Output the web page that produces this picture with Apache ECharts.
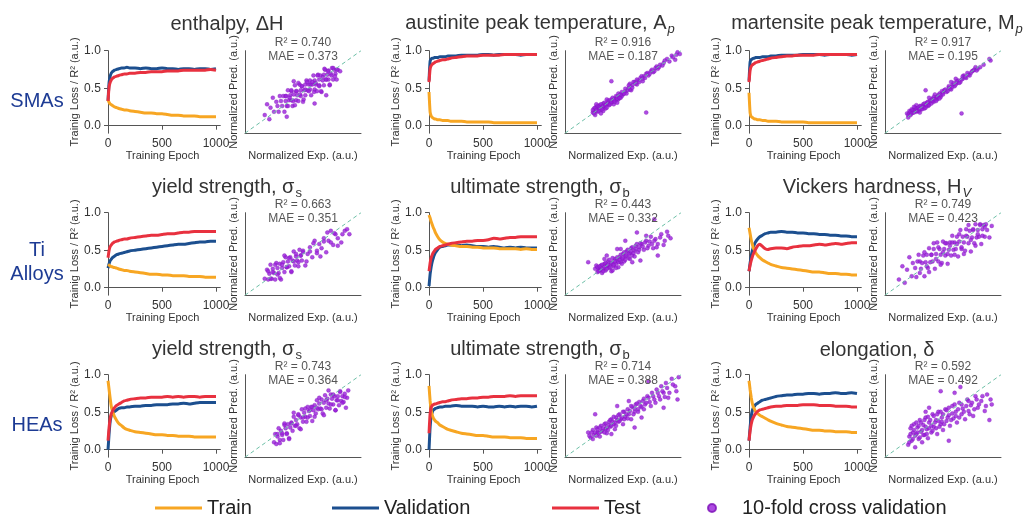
<!DOCTYPE html>
<html>
<head>
<meta charset="utf-8">
<script src="https://cdn.jsdelivr.net/npm/echarts@6/dist/echarts.min.js"></script>
<style>
html, body { margin: 0; padding: 0; background: #fff; }
#chart { width: 1027px; height: 516px; }
</style>
</head>
<body>
<div id="chart"></div>
<script>
// 横轴：训练轮数
var epochs = [0, 10, 20, 30, 40, 50, 60, 80, 100, 125, 150, 175, 200, 250, 300, 350, 400, 450, 500, 550, 600, 650, 700, 750, 800, 850, 900, 950, 1000];
var epochTicks = [0, 500, 1000];
var lossTicks = [0, 0.5, 1.0];

var rowNames = ['SMAs', 'Ti\nAlloys', 'HEAs'];
var panelTitles = [
	'enthalpy, ΔH',
	'austinite peak temperature, A{it|p}',
	'martensite peak temperature, M{it|p}',
	'yield strength, σ{sub|s}',
	'ultimate strength, σ{sub|b}',
	'Vickers hardness, H{it|V}',
	'yield strength, σ{sub|s}',
	'ultimate strength, σ{sub|b}',
	'elongation, δ'
];
var r2Values = ['0.740', '0.916', '0.917', '0.663', '0.443', '0.749', '0.743', '0.714', '0.592'];
var maeValues = ['0.373', '0.187', '0.195', '0.351', '0.332', '0.423', '0.364', '0.388', '0.492'];

// SMAs - enthalpy
var smaDHTrain = [0.35, 0.31, 0.29, 0.28, 0.27, 0.26, 0.25, 0.24, 0.23, 0.22, 0.21, 0.21, 0.20, 0.19, 0.18, 0.17, 0.17, 0.16, 0.16, 0.15, 0.14, 0.14, 0.13, 0.13, 0.13, 0.12, 0.12, 0.12, 0.12];
var smaDHVal = [0.33, 0.58, 0.66, 0.70, 0.72, 0.73, 0.74, 0.75, 0.76, 0.77, 0.77, 0.78, 0.77, 0.77, 0.76, 0.77, 0.76, 0.76, 0.77, 0.76, 0.76, 0.75, 0.76, 0.76, 0.75, 0.76, 0.76, 0.75, 0.76];
var smaDHTest = [0.33, 0.52, 0.58, 0.61, 0.63, 0.64, 0.65, 0.66, 0.67, 0.68, 0.69, 0.69, 0.70, 0.70, 0.71, 0.71, 0.72, 0.72, 0.72, 0.73, 0.73, 0.73, 0.74, 0.74, 0.74, 0.74, 0.74, 0.75, 0.74];
var smaDHCv = [[0.17,0.22],[0.19,0.35],[0.21,0.17],[0.22,0.31],[0.24,0.43],[0.25,0.26],[0.27,0.38],[0.28,0.33],[0.29,0.26],[0.30,0.45],[0.31,0.39],[0.32,0.33],[0.33,0.45],[0.34,0.26],[0.35,0.39],[0.35,0.45],[0.36,0.33],[0.37,0.52],[0.38,0.40],[0.39,0.46],[0.40,0.40],[0.40,0.51],[0.41,0.33],[0.42,0.47],[0.43,0.58],[0.44,0.40],[0.44,0.51],[0.45,0.46],[0.46,0.39],[0.47,0.59],[0.48,0.52],[0.48,0.45],[0.49,0.57],[0.50,0.38],[0.51,0.52],[0.52,0.59],[0.52,0.46],[0.53,0.64],[0.54,0.52],[0.55,0.59],[0.56,0.53],[0.56,0.64],[0.57,0.46],[0.58,0.59],[0.59,0.70],[0.60,0.53],[0.60,0.64],[0.61,0.59],[0.62,0.51],[0.63,0.71],[0.64,0.65],[0.64,0.58],[0.65,0.70],[0.66,0.50],[0.67,0.64],[0.68,0.71],[0.68,0.58],[0.69,0.77],[0.70,0.65],[0.71,0.71],[0.72,0.65],[0.72,0.76],[0.73,0.58],[0.74,0.72],[0.75,0.79],[0.76,0.65],[0.77,0.77],[0.78,0.72],[0.79,0.65],[0.80,0.77],[0.82,0.75],
	[0.355,0.45],[0.37,0.33],[0.385,0.43],[0.40,0.52],[0.415,0.39],[0.43,0.34],[0.445,0.51],[0.46,0.61],[0.475,0.47],[0.49,0.57],[0.505,0.41],[0.52,0.53],[0.535,0.62],[0.55,0.51],[0.565,0.59],[0.58,0.62],[0.595,0.50],[0.61,0.61],[0.625,0.70],[0.64,0.57],[0.655,0.51],[0.67,0.68],[0.685,0.78],[0.70,0.65],[0.715,0.75],[0.73,0.59],[0.745,0.70],[0.76,0.79],[0.775,0.69],[0.79,0.77],[0.36,0.20],[0.60,0.36],[0.70,0.46],[0.42,0.63]];

// SMAs - Ap
var smaApTrain = [0.45, 0.18, 0.13, 0.11, 0.10, 0.09, 0.09, 0.08, 0.08, 0.07, 0.07, 0.07, 0.06, 0.06, 0.06, 0.05, 0.05, 0.05, 0.05, 0.05, 0.04, 0.04, 0.04, 0.04, 0.04, 0.04, 0.04, 0.04, 0.04];
var smaApVal = [0.60, 0.86, 0.89, 0.90, 0.90, 0.91, 0.91, 0.91, 0.92, 0.92, 0.92, 0.93, 0.93, 0.93, 0.94, 0.94, 0.94, 0.94, 0.95, 0.95, 0.94, 0.95, 0.95, 0.95, 0.95, 0.94, 0.95, 0.95, 0.95];
var smaApTest = [0.58, 0.76, 0.80, 0.82, 0.83, 0.84, 0.85, 0.86, 0.87, 0.88, 0.88, 0.89, 0.90, 0.91, 0.92, 0.93, 0.93, 0.93, 0.94, 0.94, 0.94, 0.94, 0.95, 0.95, 0.95, 0.95, 0.95, 0.95, 0.95];
var smaApCv = [[0.24,0.25],[0.25,0.30],[0.26,0.27],[0.27,0.32],[0.28,0.26],[0.29,0.30],[0.30,0.34],[0.31,0.28],[0.32,0.31],[0.33,0.36],[0.34,0.32],[0.35,0.30],[0.36,0.35],[0.37,0.39],[0.38,0.34],[0.39,0.37],[0.40,0.41],[0.41,0.38],[0.42,0.35],[0.43,0.42],[0.44,0.40],[0.45,0.44],[0.46,0.41],[0.47,0.46],[0.48,0.43],[0.50,0.47],[0.52,0.51],[0.53,0.48],[0.55,0.55],[0.57,0.52],[0.58,0.58],[0.60,0.62],[0.62,0.59],[0.63,0.64],[0.65,0.67],[0.67,0.63],[0.68,0.69],[0.70,0.72],[0.72,0.70],[0.74,0.75],[0.76,0.74],[0.78,0.79],[0.80,0.78],[0.82,0.83],[0.85,0.85],[0.88,0.90],[0.92,0.94],[0.95,0.89],[0.97,0.98],[0.99,0.96],[0.40,0.63],[0.70,0.25],[0.33,0.27],[0.29,0.33],[0.26,0.22],[0.56,0.60],[0.49,0.45],
	[0.24,0.28],[0.25,0.24],[0.26,0.31],[0.27,0.28],[0.28,0.33],[0.29,0.27],[0.30,0.31],[0.31,0.35],[0.32,0.29],[0.33,0.33],[0.34,0.37],[0.35,0.34],[0.36,0.31],[0.37,0.36],[0.38,0.40],[0.39,0.35],[0.40,0.38],[0.41,0.43],[0.42,0.40],[0.43,0.38],[0.44,0.45],[0.45,0.42],[0.46,0.48],[0.47,0.43],[0.48,0.47],[0.49,0.50],[0.51,0.48],[0.52,0.54],[0.54,0.52],[0.55,0.58],[0.56,0.53],[0.58,0.55],[0.59,0.62],[0.61,0.60],[0.62,0.65],[0.64,0.62],[0.66,0.69],[0.67,0.66],[0.69,0.67],[0.71,0.73],[0.73,0.72],[0.75,0.77],[0.77,0.75],[0.79,0.81],[0.81,0.80],[0.84,0.82],[0.86,0.88],[0.90,0.87],[0.93,0.92],[0.96,0.95],[0.36,0.41],[0.31,0.24],[0.45,0.37],[0.27,0.35]];

// SMAs - Mp
var smaMpTrain = [0.44, 0.17, 0.12, 0.11, 0.10, 0.09, 0.09, 0.08, 0.08, 0.07, 0.07, 0.06, 0.06, 0.06, 0.05, 0.05, 0.05, 0.05, 0.05, 0.04, 0.04, 0.04, 0.04, 0.04, 0.04, 0.04, 0.04, 0.04, 0.04];
var smaMpVal = [0.60, 0.85, 0.88, 0.89, 0.90, 0.90, 0.91, 0.91, 0.91, 0.92, 0.92, 0.92, 0.93, 0.93, 0.94, 0.94, 0.94, 0.94, 0.95, 0.95, 0.95, 0.95, 0.94, 0.95, 0.95, 0.95, 0.95, 0.94, 0.95];
var smaMpTest = [0.58, 0.74, 0.79, 0.81, 0.82, 0.83, 0.84, 0.85, 0.86, 0.87, 0.88, 0.89, 0.90, 0.91, 0.92, 0.93, 0.93, 0.94, 0.94, 0.94, 0.94, 0.95, 0.95, 0.95, 0.95, 0.95, 0.95, 0.95, 0.95];
var smaMpCv = [[0.19,0.24],[0.21,0.27],[0.22,0.22],[0.23,0.29],[0.24,0.25],[0.25,0.28],[0.26,0.31],[0.27,0.26],[0.28,0.30],[0.29,0.27],[0.30,0.33],[0.31,0.29],[0.32,0.32],[0.33,0.35],[0.34,0.30],[0.35,0.34],[0.36,0.37],[0.37,0.33],[0.38,0.36],[0.40,0.39],[0.41,0.42],[0.42,0.38],[0.44,0.43],[0.45,0.41],[0.46,0.46],[0.48,0.44],[0.50,0.49],[0.51,0.52],[0.53,0.50],[0.55,0.55],[0.57,0.53],[0.58,0.58],[0.60,0.57],[0.62,0.61],[0.63,0.64],[0.65,0.62],[0.67,0.66],[0.68,0.70],[0.70,0.67],[0.72,0.71],[0.74,0.73],[0.76,0.76],[0.78,0.80],[0.80,0.78],[0.90,0.90],[0.91,0.88],[0.35,0.52],[0.66,0.24],[0.20,0.19],[0.27,0.34],[0.43,0.47],[0.61,0.66],
	[0.20,0.22],[0.21,0.24],[0.22,0.26],[0.23,0.24],[0.24,0.28],[0.25,0.25],[0.26,0.28],[0.27,0.30],[0.28,0.27],[0.29,0.31],[0.30,0.29],[0.31,0.33],[0.32,0.29],[0.33,0.32],[0.34,0.36],[0.35,0.31],[0.36,0.34],[0.37,0.38],[0.38,0.34],[0.39,0.40],[0.40,0.36],[0.41,0.39],[0.42,0.44],[0.43,0.41],[0.44,0.39],[0.45,0.44],[0.47,0.48],[0.48,0.46],[0.49,0.51],[0.50,0.47],[0.52,0.53],[0.54,0.51],[0.55,0.57],[0.56,0.54],[0.58,0.56],[0.59,0.61],[0.61,0.59],[0.62,0.63],[0.64,0.61],[0.66,0.65],[0.67,0.69],[0.69,0.68],[0.71,0.73],[0.73,0.70],[0.75,0.75],[0.77,0.77],[0.79,0.76],[0.82,0.80],[0.85,0.83],[0.25,0.32],[0.30,0.25],[0.47,0.42],[0.38,0.43],[0.57,0.62]];

// Ti - yield strength
var tiYsTrain = [0.31, 0.30, 0.29, 0.28, 0.28, 0.27, 0.27, 0.26, 0.25, 0.24, 0.23, 0.23, 0.22, 0.21, 0.20, 0.19, 0.18, 0.18, 0.17, 0.17, 0.16, 0.16, 0.16, 0.15, 0.15, 0.15, 0.14, 0.14, 0.14];
var tiYsVal = [0.26, 0.32, 0.36, 0.38, 0.40, 0.41, 0.42, 0.44, 0.45, 0.46, 0.47, 0.48, 0.49, 0.50, 0.51, 0.52, 0.53, 0.54, 0.55, 0.56, 0.57, 0.58, 0.58, 0.59, 0.60, 0.61, 0.61, 0.62, 0.62];
var tiYsTest = [0.40, 0.50, 0.55, 0.57, 0.59, 0.60, 0.61, 0.62, 0.63, 0.64, 0.65, 0.65, 0.66, 0.67, 0.68, 0.69, 0.70, 0.70, 0.71, 0.72, 0.72, 0.73, 0.74, 0.74, 0.75, 0.75, 0.75, 0.75, 0.75];
var tiYsCv = [[0.17,0.20],[0.19,0.31],[0.20,0.19],[0.21,0.26],[0.22,0.37],[0.23,0.20],[0.24,0.32],[0.25,0.27],[0.26,0.19],[0.27,0.39],[0.28,0.33],[0.29,0.27],[0.30,0.38],[0.31,0.19],[0.32,0.33],[0.33,0.40],[0.34,0.28],[0.35,0.46],[0.36,0.34],[0.37,0.41],[0.38,0.35],[0.39,0.46],[0.40,0.28],[0.41,0.42],[0.42,0.53],[0.43,0.36],[0.44,0.47],[0.45,0.42],[0.46,0.35],[0.47,0.55],[0.48,0.48],[0.49,0.42],[0.50,0.54],[0.52,0.36],[0.54,0.50],[0.56,0.58],[0.58,0.46],[0.60,0.66],[0.62,0.54],[0.64,0.62],[0.66,0.57],[0.68,0.69],[0.70,0.52],[0.72,0.66],[0.74,0.78],[0.76,0.61],[0.78,0.74],[0.80,0.69],[0.83,0.64],[0.86,0.78],[0.90,0.74],
	[0.20,0.29],[0.22,0.20],[0.24,0.28],[0.26,0.37],[0.28,0.25],[0.30,0.21],[0.32,0.37],[0.34,0.48],[0.36,0.34],[0.38,0.45],[0.40,0.29],[0.42,0.41],[0.44,0.50],[0.46,0.40],[0.48,0.48],[0.50,0.52],[0.53,0.41],[0.56,0.53],[0.59,0.63],[0.62,0.51],[0.65,0.47],[0.68,0.65],[0.71,0.76],[0.74,0.64],[0.77,0.75],[0.80,0.60],[0.84,0.74],[0.88,0.80]];

// Ti - ultimate strength
var tiUtsTrain = [0.97, 0.93, 0.88, 0.84, 0.80, 0.77, 0.73, 0.68, 0.64, 0.61, 0.59, 0.58, 0.57, 0.56, 0.55, 0.55, 0.54, 0.54, 0.53, 0.53, 0.53, 0.52, 0.52, 0.52, 0.52, 0.51, 0.52, 0.51, 0.51];
var tiUtsVal = [0.02, 0.18, 0.28, 0.35, 0.40, 0.44, 0.47, 0.51, 0.54, 0.55, 0.56, 0.57, 0.57, 0.57, 0.56, 0.57, 0.56, 0.55, 0.55, 0.54, 0.55, 0.54, 0.53, 0.54, 0.53, 0.54, 0.53, 0.53, 0.53];
var tiUtsTest = [0.22, 0.33, 0.40, 0.44, 0.47, 0.49, 0.51, 0.53, 0.55, 0.56, 0.57, 0.58, 0.59, 0.60, 0.61, 0.62, 0.62, 0.63, 0.63, 0.64, 0.66, 0.65, 0.66, 0.67, 0.67, 0.68, 0.68, 0.68, 0.68];
var tiUtsCv = [[0.20,0.40],[0.28,0.28],[0.29,0.33],[0.30,0.30],[0.31,0.36],[0.32,0.27],[0.33,0.32],[0.34,0.38],[0.35,0.30],[0.36,0.35],[0.37,0.41],[0.38,0.33],[0.39,0.37],[0.40,0.29],[0.41,0.40],[0.42,0.35],[0.43,0.44],[0.44,0.38],[0.45,0.42],[0.46,0.34],[0.47,0.46],[0.48,0.40],[0.49,0.44],[0.50,0.50],[0.51,0.41],[0.52,0.47],[0.53,0.53],[0.55,0.45],[0.56,0.51],[0.57,0.57],[0.58,0.48],[0.60,0.54],[0.61,0.60],[0.63,0.52],[0.64,0.58],[0.66,0.62],[0.68,0.55],[0.70,0.66],[0.72,0.60],[0.74,0.71],[0.76,0.57],[0.78,0.68],[0.80,0.62],[0.83,0.74],[0.86,0.66],[0.89,0.72],[0.91,0.69],[0.80,0.48],[0.62,0.76],[0.52,0.66],[0.45,0.56],[0.65,0.42],[0.77,0.92],[0.36,0.48],
	[0.26,0.32],[0.27,0.36],[0.28,0.34],[0.29,0.29],[0.30,0.35],[0.31,0.31],[0.32,0.37],[0.33,0.29],[0.34,0.34],[0.35,0.39],[0.36,0.32],[0.37,0.37],[0.38,0.43],[0.39,0.34],[0.40,0.39],[0.41,0.45],[0.42,0.37],[0.43,0.41],[0.44,0.33],[0.45,0.46],[0.46,0.40],[0.47,0.43],[0.48,0.49],[0.49,0.38],[0.50,0.45],[0.51,0.52],[0.52,0.43],[0.53,0.48],[0.54,0.55],[0.55,0.50],[0.56,0.44],[0.57,0.53],[0.58,0.58],[0.59,0.51],[0.60,0.47],[0.61,0.56],[0.62,0.62],[0.64,0.55],[0.65,0.63],[0.67,0.59],[0.69,0.64],[0.71,0.57],[0.73,0.65],[0.75,0.62],[0.77,0.66],[0.79,0.58],[0.82,0.70],[0.85,0.61],[0.88,0.77],[0.34,0.44],[0.41,0.30],[0.48,0.56],[0.58,0.40],[0.70,0.72]];

// Ti - Vickers hardness
var tiHvTrain = [0.80, 0.72, 0.64, 0.58, 0.53, 0.50, 0.47, 0.43, 0.40, 0.37, 0.35, 0.33, 0.31, 0.29, 0.27, 0.26, 0.25, 0.24, 0.23, 0.22, 0.21, 0.21, 0.20, 0.19, 0.19, 0.18, 0.18, 0.17, 0.17];
var tiHvVal = [0.22, 0.33, 0.42, 0.49, 0.54, 0.58, 0.61, 0.65, 0.68, 0.70, 0.72, 0.73, 0.74, 0.74, 0.75, 0.74, 0.74, 0.73, 0.73, 0.72, 0.72, 0.71, 0.71, 0.70, 0.70, 0.69, 0.69, 0.68, 0.68];
var tiHvTest = [0.22, 0.30, 0.36, 0.41, 0.45, 0.48, 0.51, 0.56, 0.58, 0.55, 0.52, 0.51, 0.52, 0.53, 0.53, 0.52, 0.54, 0.55, 0.56, 0.56, 0.57, 0.58, 0.57, 0.58, 0.59, 0.58, 0.59, 0.60, 0.60];
var tiHvCv = [[0.12,0.19],[0.15,0.35],[0.17,0.15],[0.19,0.31],[0.21,0.46],[0.23,0.23],[0.24,0.39],[0.26,0.33],[0.27,0.22],[0.29,0.49],[0.30,0.41],[0.31,0.32],[0.33,0.48],[0.34,0.23],[0.35,0.40],[0.36,0.49],[0.37,0.33],[0.38,0.57],[0.39,0.40],[0.40,0.49],[0.41,0.41],[0.42,0.56],[0.43,0.32],[0.44,0.50],[0.45,0.64],[0.46,0.41],[0.47,0.56],[0.48,0.49],[0.49,0.39],[0.50,0.65],[0.51,0.56],[0.52,0.48],[0.53,0.63],[0.54,0.38],[0.55,0.55],[0.56,0.64],[0.57,0.48],[0.58,0.72],[0.59,0.55],[0.60,0.64],[0.61,0.56],[0.62,0.71],[0.63,0.47],[0.64,0.65],[0.65,0.79],[0.66,0.56],[0.67,0.71],[0.68,0.64],[0.69,0.54],[0.70,0.80],[0.71,0.71],[0.72,0.63],[0.73,0.78],[0.74,0.53],[0.75,0.70],[0.76,0.79],[0.77,0.63],[0.78,0.86],[0.79,0.70],[0.80,0.79],[0.81,0.71],[0.82,0.86],[0.83,0.62],[0.84,0.80],[0.85,0.85],[0.86,0.71],[0.87,0.86],[0.88,0.79],[0.90,0.70],[0.92,0.84],
	[0.28,0.41],[0.30,0.27],[0.32,0.39],[0.34,0.52],[0.36,0.35],[0.38,0.28],[0.40,0.49],[0.42,0.63],[0.44,0.44],[0.46,0.58],[0.48,0.37],[0.50,0.52],[0.52,0.63],[0.54,0.50],[0.56,0.60],[0.58,0.64],[0.60,0.49],[0.62,0.62],[0.64,0.74],[0.66,0.58],[0.68,0.50],[0.70,0.72],[0.72,0.85],[0.74,0.67],[0.76,0.80],[0.78,0.60],[0.80,0.74],[0.82,0.85],[0.84,0.72],[0.86,0.83]];

// HEAs - yield strength
var heaYsTrain = [0.92, 0.80, 0.68, 0.58, 0.52, 0.48, 0.44, 0.39, 0.35, 0.32, 0.29, 0.27, 0.26, 0.24, 0.23, 0.22, 0.21, 0.20, 0.20, 0.19, 0.19, 0.18, 0.18, 0.18, 0.17, 0.17, 0.17, 0.17, 0.17];
var heaYsVal = [0.00, 0.22, 0.38, 0.45, 0.48, 0.50, 0.51, 0.53, 0.55, 0.56, 0.56, 0.57, 0.57, 0.58, 0.58, 0.59, 0.59, 0.60, 0.60, 0.60, 0.61, 0.61, 0.62, 0.61, 0.62, 0.63, 0.63, 0.63, 0.63];
var heaYsTest = [0.12, 0.30, 0.42, 0.48, 0.51, 0.54, 0.56, 0.59, 0.61, 0.63, 0.65, 0.66, 0.67, 0.68, 0.69, 0.69, 0.70, 0.70, 0.70, 0.71, 0.70, 0.71, 0.70, 0.71, 0.71, 0.70, 0.71, 0.71, 0.71];
var heaYsCv = [[0.25,0.18],[0.26,0.28],[0.27,0.16],[0.28,0.25],[0.29,0.35],[0.30,0.21],[0.31,0.32],[0.32,0.27],[0.33,0.21],[0.34,0.39],[0.35,0.35],[0.36,0.29],[0.37,0.40],[0.38,0.23],[0.39,0.36],[0.40,0.42],[0.41,0.32],[0.42,0.49],[0.43,0.38],[0.44,0.45],[0.45,0.40],[0.46,0.51],[0.47,0.35],[0.48,0.48],[0.49,0.58],[0.50,0.43],[0.51,0.54],[0.52,0.49],[0.53,0.43],[0.54,0.61],[0.55,0.56],[0.56,0.50],[0.57,0.61],[0.58,0.44],[0.59,0.57],[0.60,0.63],[0.61,0.53],[0.62,0.69],[0.63,0.58],[0.64,0.65],[0.65,0.59],[0.66,0.70],[0.67,0.53],[0.68,0.66],[0.69,0.75],[0.70,0.60],[0.71,0.71],[0.72,0.65],[0.73,0.59],[0.74,0.76],[0.75,0.71],[0.76,0.64],[0.77,0.74],[0.78,0.57],[0.79,0.69],[0.80,0.74],[0.81,0.63],[0.82,0.80],[0.83,0.68],[0.84,0.74],[0.85,0.67],[0.86,0.77],[0.87,0.60],[0.88,0.72],[0.89,0.81],
	[0.28,0.28],[0.30,0.17],[0.32,0.29],[0.34,0.41],[0.36,0.28],[0.38,0.22],[0.40,0.41],[0.42,0.54],[0.44,0.38],[0.46,0.52],[0.48,0.34],[0.50,0.48],[0.52,0.59],[0.54,0.48],[0.56,0.57],[0.58,0.61],[0.60,0.49],[0.62,0.60],[0.64,0.72],[0.66,0.58],[0.68,0.51],[0.70,0.69],[0.72,0.81],[0.74,0.64],[0.76,0.76],[0.78,0.57],[0.80,0.69],[0.82,0.79],[0.84,0.66],[0.86,0.73]];

// HEAs - ultimate strength
var heaUtsTrain = [0.85, 0.65, 0.52, 0.46, 0.42, 0.40, 0.38, 0.36, 0.33, 0.31, 0.29, 0.27, 0.26, 0.24, 0.22, 0.21, 0.20, 0.19, 0.19, 0.18, 0.17, 0.17, 0.17, 0.16, 0.16, 0.16, 0.15, 0.15, 0.15];
var heaUtsVal = [0.00, 0.30, 0.45, 0.50, 0.53, 0.54, 0.55, 0.56, 0.57, 0.57, 0.58, 0.58, 0.58, 0.59, 0.58, 0.58, 0.58, 0.57, 0.58, 0.57, 0.57, 0.58, 0.57, 0.58, 0.57, 0.58, 0.58, 0.57, 0.58];
var heaUtsTest = [0.22, 0.48, 0.56, 0.59, 0.60, 0.61, 0.61, 0.62, 0.63, 0.64, 0.64, 0.65, 0.66, 0.67, 0.68, 0.68, 0.69, 0.69, 0.70, 0.70, 0.71, 0.71, 0.71, 0.72, 0.71, 0.72, 0.72, 0.72, 0.72];
var heaUtsCv = [[0.20,0.30],[0.22,0.24],[0.24,0.33],[0.25,0.27],[0.27,0.36],[0.28,0.30],[0.30,0.25],[0.31,0.38],[0.32,0.32],[0.34,0.40],[0.35,0.34],[0.36,0.29],[0.38,0.43],[0.39,0.37],[0.40,0.46],[0.42,0.40],[0.43,0.34],[0.44,0.48],[0.46,0.43],[0.47,0.52],[0.48,0.46],[0.50,0.40],[0.51,0.55],[0.52,0.49],[0.54,0.58],[0.55,0.52],[0.57,0.46],[0.58,0.61],[0.60,0.55],[0.61,0.64],[0.63,0.58],[0.64,0.67],[0.66,0.61],[0.68,0.71],[0.69,0.64],[0.71,0.74],[0.73,0.67],[0.75,0.78],[0.77,0.70],[0.79,0.82],[0.81,0.74],[0.83,0.86],[0.85,0.78],[0.87,0.90],[0.89,0.72],[0.92,0.95],[0.95,0.86],[0.98,0.97],[0.97,0.70],[0.26,0.52],[0.60,0.36],[0.72,0.92],[0.45,0.62],[0.85,0.60],
	[0.21,0.26],[0.23,0.30],[0.24,0.22],[0.26,0.30],[0.27,0.26],[0.28,0.34],[0.29,0.29],[0.30,0.36],[0.31,0.31],[0.33,0.35],[0.34,0.30],[0.35,0.41],[0.36,0.36],[0.37,0.33],[0.38,0.39],[0.39,0.45],[0.40,0.38],[0.41,0.43],[0.42,0.49],[0.43,0.42],[0.44,0.38],[0.45,0.45],[0.46,0.51],[0.47,0.44],[0.49,0.48],[0.50,0.55],[0.51,0.46],[0.53,0.52],[0.54,0.47],[0.56,0.56],[0.57,0.62],[0.59,0.52],[0.60,0.59],[0.62,0.65],[0.63,0.55],[0.65,0.62],[0.67,0.68],[0.68,0.58],[0.70,0.66],[0.72,0.72],[0.74,0.62],[0.76,0.74],[0.78,0.66],[0.80,0.78],[0.82,0.70],[0.84,0.80],[0.86,0.73],[0.88,0.84],[0.90,0.78],[0.93,0.88],[0.96,0.80],[0.40,0.28],[0.55,0.68],[0.66,0.48]];

// HEAs - elongation
var heaElTrain = [0.92, 0.80, 0.70, 0.62, 0.57, 0.54, 0.51, 0.48, 0.46, 0.44, 0.42, 0.40, 0.38, 0.35, 0.33, 0.31, 0.30, 0.29, 0.28, 0.27, 0.26, 0.26, 0.25, 0.25, 0.24, 0.24, 0.24, 0.23, 0.23];
var heaElVal = [0.12, 0.30, 0.44, 0.52, 0.56, 0.58, 0.60, 0.62, 0.64, 0.66, 0.67, 0.68, 0.69, 0.71, 0.72, 0.73, 0.73, 0.74, 0.74, 0.75, 0.75, 0.74, 0.75, 0.75, 0.76, 0.75, 0.75, 0.76, 0.75];
var heaElTest = [0.12, 0.25, 0.34, 0.40, 0.43, 0.46, 0.48, 0.51, 0.53, 0.54, 0.55, 0.56, 0.57, 0.58, 0.58, 0.59, 0.59, 0.59, 0.60, 0.60, 0.60, 0.59, 0.59, 0.59, 0.58, 0.58, 0.58, 0.57, 0.57];
var heaElCv = [[0.20,0.15],[0.21,0.25],[0.22,0.35],[0.23,0.20],[0.24,0.30],[0.25,0.40],[0.26,0.12],[0.27,0.28],[0.28,0.36],[0.29,0.22],[0.30,0.45],[0.31,0.31],[0.32,0.18],[0.33,0.39],[0.34,0.27],[0.35,0.48],[0.36,0.34],[0.37,0.23],[0.38,0.42],[0.40,0.30],[0.41,0.52],[0.42,0.37],[0.44,0.45],[0.45,0.28],[0.46,0.55],[0.48,0.40],[0.49,0.48],[0.50,0.33],[0.52,0.58],[0.53,0.44],[0.55,0.51],[0.56,0.38],[0.58,0.62],[0.59,0.47],[0.61,0.55],[0.62,0.42],[0.64,0.66],[0.66,0.52],[0.67,0.59],[0.69,0.46],[0.71,0.70],[0.72,0.56],[0.74,0.63],[0.76,0.50],[0.78,0.74],[0.80,0.60],[0.83,0.68],[0.86,0.56],[0.88,0.76],[0.92,0.64],[0.48,0.80],[0.65,0.85],[0.55,0.20],[0.38,0.60],[0.90,0.45],
	[0.21,0.18],[0.22,0.28],[0.23,0.38],[0.24,0.22],[0.25,0.33],[0.26,0.26],[0.27,0.42],[0.28,0.30],[0.29,0.38],[0.30,0.24],[0.31,0.42],[0.32,0.33],[0.33,0.27],[0.34,0.45],[0.35,0.37],[0.36,0.28],[0.37,0.49],[0.38,0.35],[0.39,0.45],[0.40,0.38],[0.41,0.32],[0.42,0.50],[0.43,0.42],[0.44,0.35],[0.45,0.52],[0.46,0.44],[0.47,0.37],[0.48,0.55],[0.49,0.43],[0.50,0.52],[0.51,0.40],[0.53,0.57],[0.54,0.48],[0.55,0.60],[0.57,0.45],[0.58,0.53],[0.60,0.64],[0.61,0.50],[0.63,0.58],[0.64,0.48],[0.66,0.64],[0.68,0.55],[0.70,0.62],[0.72,0.68],[0.73,0.52],[0.75,0.66],[0.77,0.58],[0.79,0.70],[0.81,0.64],[0.84,0.74],[0.87,0.62],[0.91,0.70],[0.60,0.78],[0.35,0.55]];

var trainSets = [smaDHTrain, smaApTrain, smaMpTrain, tiYsTrain, tiUtsTrain, tiHvTrain, heaYsTrain, heaUtsTrain, heaElTrain];
var valSets = [smaDHVal, smaApVal, smaMpVal, tiYsVal, tiUtsVal, tiHvVal, heaYsVal, heaUtsVal, heaElVal];
var testSets = [smaDHTest, smaApTest, smaMpTest, tiYsTest, tiUtsTest, tiHvTest, heaYsTest, heaUtsTest, heaElTest];
var cvSets = [smaDHCv, smaApCv, smaMpCv, tiYsCv, tiUtsCv, tiHvCv, heaYsCv, heaUtsCv, heaElCv];

(function () {
	var font = 'Liberation Sans, Arial, sans-serif';
	var colors = { Train: '#f7a623', Validation: '#1c4f8f', Test: '#e8313f' };
	var cvColor = '#9a1fdb';
	var axisColor = '#555';

	var lineLeft = [104.8, 425.8, 745.8];
	var scatLeft = [245, 565, 885];
	var rowTop = [50.7, 212.7, 374.7];
	var titleX = [227, 540, 877];
	var titleTop = [14, 178, 340];
	var statX = [303, 623, 943];

	var grid = [], xAxis = [], yAxis = [], series = [], title = [];

	function toPairs(vals) {
		return epochs.map(function (e, k) { return [e, vals[k]]; });
	}

	for (var i = 0; i < 9; i++) {
		var row = Math.floor(i / 3), col = i % 3;
		var top = rowTop[row];
		var gl = grid.length;

		// 折线图：训练曲线
		grid.push({ left: lineLeft[col], top: top, width: 115.5, height: 82.5 });
		xAxis.push({
			gridIndex: gl, type: 'value', min: -30, max: 1040,
			name: 'Training Epoch', nameLocation: 'middle', nameGap: 17,
			nameTextStyle: { fontSize: 11, color: '#333', fontFamily: font },
			axisLine: { lineStyle: { color: axisColor } },
			axisTick: { customValues: epochTicks, length: 4, lineStyle: { color: axisColor } },
			axisLabel: { customValues: epochTicks, fontSize: 12, color: '#333', fontFamily: font, margin: 4,
				formatter: function (v) { return String(v); } },
			splitLine: { show: false }
		});
		yAxis.push({
			gridIndex: gl, type: 'value', min: -0.1, max: 1.0,
			name: 'Trainig Loss / R² (a.u.)', nameLocation: 'middle', nameGap: 19,
			nameTextStyle: { fontSize: 11, color: '#333', fontFamily: font },
			axisLine: { show: true, lineStyle: { color: axisColor } },
			axisTick: { show: true, customValues: lossTicks, length: 4, lineStyle: { color: axisColor } },
			axisLabel: { customValues: lossTicks, fontSize: 12, color: '#333', fontFamily: font, margin: 4,
				formatter: function (v) { return v.toFixed(1); } },
			splitLine: { show: false }
		});
		[['Train', trainSets[i]], ['Validation', valSets[i]], ['Test', testSets[i]]].forEach(function (s) {
			series.push({
				name: s[0], type: 'line', xAxisIndex: gl, yAxisIndex: gl,
				data: toPairs(s[1]), showSymbol: false, smooth: 0.2,
				itemStyle: { color: colors[s[0]] },
				lineStyle: { color: colors[s[0]], width: 3 },
				z: s[0] === 'Train' ? 3 : (s[0] === 'Test' ? 4 : 2)
			});
		});

		// 散点图：交叉验证
		grid.push({ left: scatLeft[col], top: top, width: 116, height: 82.5 });
		xAxis.push({
			gridIndex: gl + 1, type: 'value', min: 0, max: 1,
			name: 'Normalized Exp. (a.u.)', nameLocation: 'middle', nameGap: 17,
			nameTextStyle: { fontSize: 11, color: '#333', fontFamily: font },
			axisLine: { lineStyle: { color: axisColor } },
			axisTick: { show: false }, axisLabel: { show: false }, splitLine: { show: false }
		});
		yAxis.push({
			gridIndex: gl + 1, type: 'value', min: 0, max: 1,
			name: 'Normalized Pred. (a.u.)', nameLocation: 'middle', nameGap: 6,
			nameTextStyle: { fontSize: 11, color: '#333', fontFamily: font },
			axisLine: { show: true, lineStyle: { color: axisColor } },
			axisTick: { show: false }, axisLabel: { show: false }, splitLine: { show: false }
		});
		series.push({
			name: 'y=x', type: 'line', xAxisIndex: gl + 1, yAxisIndex: gl + 1,
			data: [[0, 0], [1, 1]], showSymbol: false, silent: true,
			lineStyle: { color: '#6cbfa6', width: 1, type: [4, 3] }
		});
		series.push({
			name: '10-fold cross validation', type: 'scatter', xAxisIndex: gl + 1, yAxisIndex: gl + 1,
			data: cvSets[i], symbolSize: 4,
			itemStyle: { color: cvColor, borderColor: '#7d12b8', borderWidth: 0.4 }
		});

		// 标题与指标
		title.push({
			text: panelTitles[i], left: titleX[col], top: titleTop[row] - (panelTitles[i].indexOf('{') >= 0 ? 3 : 0),
			textAlign: 'center', padding: 0,
			textStyle: {
				fontSize: 20, fontWeight: 'normal', color: '#333', fontFamily: font,
				rich: {
					it: { fontSize: 13, fontStyle: 'italic', color: '#333', fontFamily: font, padding: [12, 0, 0, 1] },
					sub: { fontSize: 13, color: '#333', fontFamily: font, padding: [12, 0, 0, 1] }
				}
			}
		});
		title.push({
			text: 'R² = ' + r2Values[i] + '\nMAE = ' + maeValues[i],
			left: statX[col], top: top - 15, textAlign: 'center', padding: 0,
			textStyle: { fontSize: 12, lineHeight: 14, fontWeight: 'normal', color: '#555', fontFamily: font }
		});
	}

	// 行标签
	var rowLabelTop = [89, 238, 413];
	rowNames.forEach(function (n, r) {
		title.push({
			text: n, left: 37, top: rowLabelTop[r], textAlign: 'center', padding: 0,
			textStyle: { fontSize: 20, lineHeight: 24, fontWeight: 'normal', color: '#1d3b94', fontFamily: font }
		});
	});

	var legendText = { fontSize: 20, color: '#222', fontFamily: font };
	function lineLegend(name, left) {
		return {
			left: left, top: 498, padding: 0, itemWidth: 47, itemHeight: 3, selectedMode: false,
			data: [{ name: name, icon: 'rect', itemStyle: { color: colors[name] } }], textStyle: legendText
		};
	}

	let myChart = echarts.init(document.getElementById('chart'));
	let option = {
		animation: false,
		backgroundColor: '#fff',
		title: title,
		legend: [
			lineLegend('Train', 155),
			lineLegend('Validation', 332),
			lineLegend('Test', 552),
			{
				left: 707, top: 498, padding: 0, itemWidth: 50, itemHeight: 8, selectedMode: false,
				data: [{ name: '10-fold cross validation', icon: 'circle', itemStyle: { color: cvColor } }], textStyle: legendText
			}
		],
		grid: grid,
		xAxis: xAxis,
		yAxis: yAxis,
		series: series
	};
	myChart.setOption(option);
	window.addEventListener('resize', function () {
		myChart.resize();
	});
})();
</script>
</body>
</html>
